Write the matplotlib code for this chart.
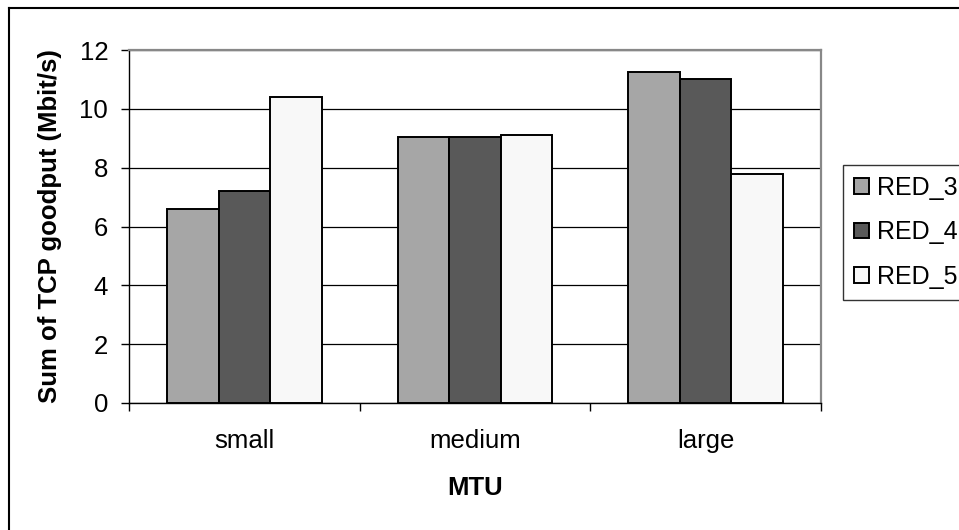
import matplotlib
matplotlib.use("Agg")
import matplotlib.pyplot as plt
from matplotlib.patches import Patch
from matplotlib.lines import Line2D
import numpy as np

plt.rcParams['font.family'] = ['Liberation Sans', 'DejaVu Sans']

categories = ["small", "medium", "large"]
series_names = ["RED_3", "RED_4", "RED_5"]
red3 = [6.6, 9.05, 11.25]
red4 = [7.2, 9.05, 11.0]
red5 = [10.4, 9.1, 7.8]
y_ticks = [0, 2, 4, 6, 8, 10, 12]
x_label = "MTU"
y_label = "Sum of TCP goodput (Mbit/s)"

colors = ["#a6a6a6", "#595959", "#f8f8f8"]
values = [red3, red4, red5]

FS = 18.5
LFS = 18
W, H = 959, 530
fig = plt.figure(figsize=(W / 100, H / 100), dpi=100)
ax = fig.add_axes([129 / W, 1 - 403 / H, (821 - 129) / W, (403 - 50) / H])

x = np.arange(len(categories))
bw = 0.2237
for i, (vals, col, name) in enumerate(zip(values, colors, series_names)):
    ax.bar(x + (i - 1) * bw, vals, width=bw, color=col, edgecolor="black",
           linewidth=1.4, label=name, zorder=3)

ax.set_xlim(-0.5, len(categories) - 0.5)
ax.set_ylim(0, 12)
ax.set_yticks(y_ticks)
ax.set_yticklabels([str(t) for t in y_ticks])
ax.set_xticks(x)
ax.set_xticklabels(categories)
ax.set_xticks(np.arange(-0.5, len(categories), 1.0), minor=True)

ax.tick_params(axis="y", which="major", direction="out", length=6, width=1,
               pad=9, labelsize=FS, color="black")
ax.tick_params(axis="x", which="major", length=0, pad=19, labelsize=FS)
ax.tick_params(axis="x", which="minor", direction="out", length=5.5, width=1,
               color="black")

ax.grid(axis="y", color="black", linewidth=0.9, zorder=0)
ax.set_axisbelow(True)

ax.spines["top"].set_color("#888888")
ax.spines["right"].set_color("#888888")
ax.spines["top"].set_linewidth(1.6)
ax.spines["right"].set_linewidth(1.6)
ax.spines["left"].set_color("black")
ax.spines["bottom"].set_color("black")
ax.spines["left"].set_linewidth(1.0)
ax.spines["bottom"].set_linewidth(1.0)

ax.set_ylabel(y_label, fontsize=FS, fontweight="bold", va="center")
ax.yaxis.set_label_coords((50 - 129) / (821 - 129), 0.5)
ax.set_xlabel(x_label, fontsize=FS, fontweight="bold", va="center")
ax.xaxis.set_label_coords(0.5, (403 - 488) / (403 - 50))

handles = [Patch(facecolor=c, edgecolor="black", linewidth=1.4) for c in colors]
leg = ax.legend(handles, series_names, loc="upper left",
                bbox_to_anchor=(843 / W, 1 - 165 / H), bbox_transform=fig.transFigure,
                fontsize=LFS, frameon=True, fancybox=False, borderaxespad=0,
                handlelength=0.6, handleheight=0.6, handletextpad=0.35,
                labelspacing=0.83, borderpad=0.42)
leg.get_frame().set_edgecolor("black")
leg.get_frame().set_linewidth(1.0)

# outer chart border (clipped at right and bottom)
fig.add_artist(Line2D([9 / W, 9 / W], [0, 1 - 8 / H], transform=fig.transFigure,
                      color="black", linewidth=1.5))
fig.add_artist(Line2D([9 / W, 1], [1 - 8 / H, 1 - 8 / H], transform=fig.transFigure,
                      color="black", linewidth=1.5))

fig.savefig("out.png", dpi=100, facecolor="white")
